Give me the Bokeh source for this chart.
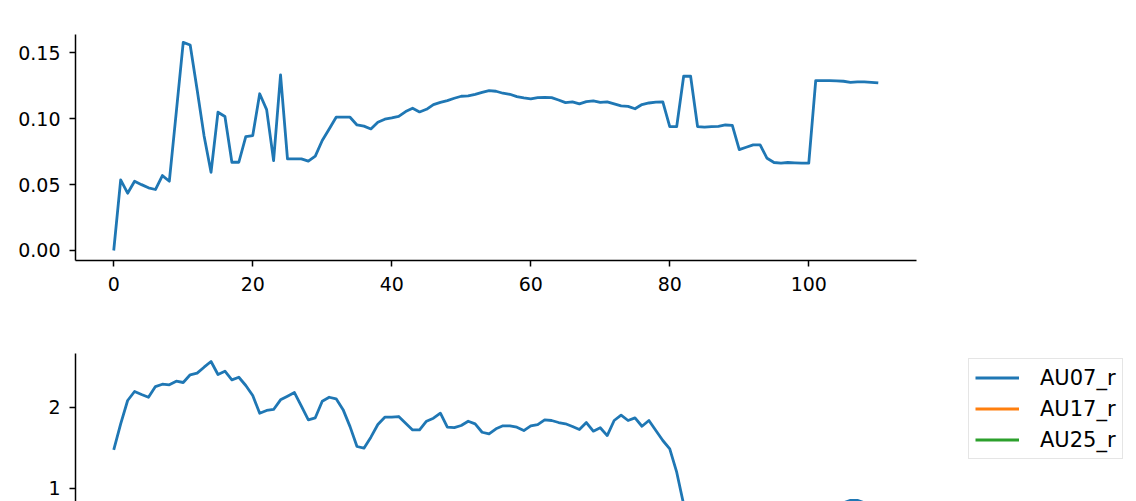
import numpy as np
from bokeh.plotting import figure
from bokeh.models import FixedTicker, PrintfTickFormatter, Range1d, Legend, LegendItem
from bokeh.embed import file_html
from bokeh.resources import INLINE

nan = np.nan

# ---------------- data ----------------
frames = list(range(111))

top_values = [
    0.000, 0.0536, 0.0435, 0.0526, 0.0500, 0.0476, 0.0463, 0.0569, 0.0526, 0.105,
    0.158, 0.156, 0.122, 0.087, 0.0594, 0.105, 0.1017, 0.067, 0.067, 0.0865,
    0.0873, 0.119, 0.107, 0.0683, 0.1333, 0.0696, 0.0696, 0.0696, 0.0678, 0.0716,
    0.0835, 0.0923, 0.1012, 0.1012, 0.1012, 0.0953, 0.0944, 0.0923, 0.0974, 0.0997,
    0.1007, 0.1019, 0.1055, 0.1080, 0.1052, 0.1072, 0.1108, 0.1125, 0.1138, 0.1156,
    0.1171, 0.1174, 0.1186, 0.1201, 0.1214, 0.1209, 0.1194, 0.1186, 0.1168, 0.1158,
    0.1151, 0.1161, 0.1163, 0.1161, 0.1143, 0.1123, 0.1128, 0.1113, 0.1130, 0.1136,
    0.1125, 0.1128, 0.1113, 0.1098, 0.1094, 0.1076, 0.1108, 0.1120, 0.1126, 0.1128,
    0.0941, 0.0941, 0.1323, 0.1323, 0.0941, 0.0936, 0.0941, 0.0943, 0.0953, 0.0950,
    0.0766, 0.0784, 0.0802, 0.0802, 0.0700, 0.0668, 0.0663, 0.0668, 0.0666, 0.0663,
    0.0663, 0.1290, 0.1290, 0.1290, 0.1288, 0.1285, 0.1277, 0.1280, 0.1280, 0.1277,
    0.1272,
]

# AU07_r: values below the visible part of the picture are unknown (nan)
au07_r = [
    1.474, 1.795, 2.083, 2.194, 2.157, 2.123, 2.255, 2.284, 2.276, 2.321,
    2.305, 2.400, 2.420, 2.494, 2.564, 2.404, 2.444, 2.338, 2.370, 2.268,
    2.144, 1.926, 1.960, 1.972, 2.091, 2.136, 2.181, 2.012, 1.844, 1.869,
    2.074, 2.123, 2.104, 1.970, 1.760, 1.515, 1.494, 1.630, 1.786, 1.877,
    1.877, 1.885, 1.802, 1.720, 1.720, 1.827, 1.864, 1.926, 1.753, 1.748,
    1.774, 1.827, 1.795, 1.691, 1.671, 1.733, 1.770, 1.770, 1.753, 1.712,
    1.770, 1.786, 1.844, 1.836, 1.811, 1.795, 1.762, 1.725, 1.811, 1.704,
    1.746, 1.650, 1.836, 1.901, 1.836, 1.869, 1.765, 1.836, 1.712, 1.589,
    1.486, 1.198, 0.800, nan, nan, nan, nan, nan, nan, nan,
    nan, nan, nan, nan, nan, nan, nan, nan, nan, nan,
    nan, nan, nan, nan, nan, 0.820, 0.850, 0.850, 0.820, nan,
    nan,
]
# AU17_r and AU25_r lie entirely below the visible part of the picture (unknown)
au17_frames, au17_r = [0], [nan]
au25_frames, au25_r = [0], [nan]

legend_labels = ["AU07_r", "AU17_r", "AU25_r"]
colors = ["#1f77b4", "#ff7f0e", "#2ca02c"]

top_xticks = [0, 20, 40, 60, 80, 100]
top_yticks = [0.00, 0.05, 0.10, 0.15]
bottom_yticks = [1, 2]

FONT = "DejaVu Sans"
LW = 2.8
PX_PER_UNIT = 841 / 121.0   # x scale shared by both plots


def style(p):
    p.grid.visible = False
    p.outline_line_color = None
    p.background_fill_color = "white"
    p.border_fill_color = "white"
    for ax in p.axis:
        ax.axis_line_color = "black"
        ax.axis_line_width = 1.5
        ax.major_tick_line_color = "black"
        ax.major_tick_line_width = 1.5
        ax.major_tick_out = 6
        ax.major_tick_in = 0
        ax.minor_tick_out = 0
        ax.minor_tick_in = 0
        ax.major_label_text_font = FONT
        ax.major_label_text_font_size = "19px"
        ax.major_label_text_color = "black"


# ---------------- top plot ----------------
p1 = figure(width=1136, height=300,
            x_range=Range1d(-5.5, 115.5), y_range=Range1d(-0.0076, 0.164),
            min_border_left=75, min_border_right=220,
            min_border_top=34, min_border_bottom=40,
            output_backend="svg", toolbar_location=None)
style(p1)
p1.xaxis.ticker = FixedTicker(ticks=top_xticks)
p1.xaxis.major_label_standoff = 10
p1.yaxis.ticker = FixedTicker(ticks=top_yticks)
p1.yaxis.formatter = PrintfTickFormatter(format="%.2f")
p1.yaxis.major_label_standoff = 9
p1.line(frames, top_values, line_color=colors[0], line_width=LW, line_join="round")

# ---------------- bottom plot ----------------
# frame runs to the right edge so the legend can sit inside it; same x scale as above
p2 = figure(width=1136, height=201,
            x_range=Range1d(-5.5, -5.5 + 1061 / PX_PER_UNIT), y_range=Range1d(0.836, 2.663),
            min_border_left=75, min_border_right=0,
            min_border_top=53, min_border_bottom=0,
            output_backend="svg", toolbar_location=None)
style(p2)
p2.xaxis.visible = False
p2.yaxis.ticker = FixedTicker(ticks=bottom_yticks)
p2.yaxis.major_label_standoff = 9

r1 = p2.line(frames, au07_r, line_color=colors[0], line_width=LW, line_join="round")
r2 = p2.line(au17_frames, au17_r, line_color=colors[1], line_width=LW)
r3 = p2.line(au25_frames, au25_r, line_color=colors[2], line_width=LW)

legend = Legend(
    items=[LegendItem(label=lab, renderers=[r]) for lab, r in zip(legend_labels, [r1, r2, r3])],
    location=(893, 42), margin=0, padding=6, spacing=6,
    glyph_width=44, glyph_height=25, label_height=25, label_width=74, label_standoff=21,
    label_text_font=FONT, label_text_font_size="21px", label_text_color="black",
    border_line_color="#cccccc", border_line_width=1,
    background_fill_color="white", background_fill_alpha=0.8,
)
p2.add_layout(legend, "center")

open("out.html", "w").write(file_html([p1, p2], INLINE))
